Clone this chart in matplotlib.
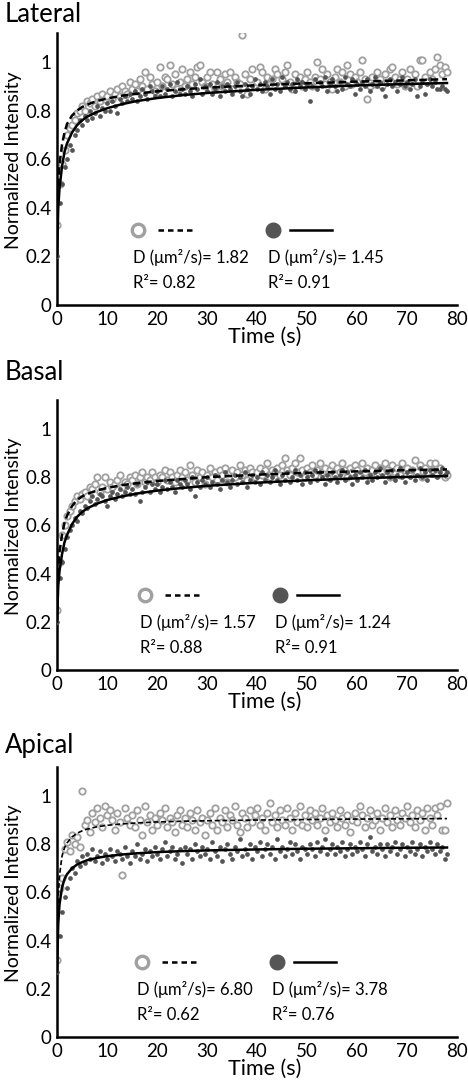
import numpy as np
import matplotlib
matplotlib.use("Agg")
import matplotlib.pyplot as plt

plt.rcParams['font.family'] = ['Lato', 'DejaVu Sans']

# sampling interval of the recordings (s)
dt = 0.5

panels = ['Lateral', 'Basal', 'Apical']

# ---- Lateral ----
lat_open = [0.33, 0.50, 0.58, 0.64, 0.70, 0.73, 0.74, 0.76, 0.79, 0.80,
            0.82, 0.80, 0.84, 0.83, 0.85, 0.82, 0.86, 0.84, 0.87, 0.85,
            0.86, 0.88, 0.85, 0.87, 0.89, 0.86, 0.90, 0.88, 0.87, 0.92,
            0.89, 0.91, 0.88, 0.93, 0.90, 0.96, 0.89, 0.94, 0.91, 0.88,
            0.92, 0.98, 0.90, 0.94, 0.93, 0.99, 0.91, 0.95, 0.89, 0.92,
            0.97, 0.90, 0.93, 0.96, 0.91, 0.94, 0.98, 0.99, 0.92, 0.90,
            0.94, 0.96, 0.91, 0.89, 0.96, 0.93, 0.90, 0.95, 0.92, 0.96,
            0.89, 0.94, 0.92, 0.91, 1.11, 0.95, 0.87, 0.93, 0.97, 0.90,
            0.92, 0.98, 0.96, 0.89, 0.94, 0.91, 0.93, 0.97, 0.95, 0.90,
            0.93, 0.96, 0.99, 0.92, 0.89, 0.95, 0.91, 0.94, 0.90, 0.93,
            0.96, 0.92, 0.90, 0.94, 1.00, 0.93, 0.97, 0.91, 0.95, 0.92,
            0.89, 0.94, 0.97, 0.92, 0.96, 0.90, 0.99, 0.95, 0.91, 0.94,
            0.92, 0.96, 1.01, 0.93, 0.85, 0.90, 0.94, 0.91, 0.96, 0.93,
            0.90, 0.95, 0.92, 0.97, 0.98, 0.94, 0.91, 0.93, 0.96, 0.90,
            0.93, 0.97, 0.92, 0.95, 0.90, 1.01, 1.01, 0.94, 0.92, 0.96,
            0.93, 0.97, 1.02, 0.99, 0.95, 0.98, 0.96]
lat_fill = [0.20, 0.42, 0.50, 0.57, 0.60, 0.66, 0.64, 0.70, 0.72, 0.76,
            0.74, 0.78, 0.76, 0.80, 0.77, 0.79, 0.82, 0.78, 0.81, 0.80,
            0.83, 0.80, 0.84, 0.82, 0.79, 0.85, 0.83, 0.86, 0.84, 0.87,
            0.85, 0.88, 0.84, 0.86, 0.89, 0.87, 0.85, 0.90, 0.88, 0.86,
            0.88, 0.86, 0.90, 0.87, 0.89, 0.91, 0.86, 0.88, 0.92, 0.87,
            0.89, 0.87, 0.90, 0.88, 0.86, 0.91, 0.89, 0.93, 0.87, 0.90,
            0.88, 0.91, 0.87, 0.89, 0.92, 0.86, 0.90, 0.88, 0.91, 0.89,
            0.87, 0.90, 0.92, 0.88, 0.86, 0.91, 0.89, 0.87, 0.90, 0.93,
            0.89, 0.91, 0.88, 0.92, 0.90, 0.87, 0.93, 0.89, 0.91, 0.88,
            0.94, 0.90, 0.92, 0.89, 0.91, 0.88, 0.93, 0.90, 0.92, 0.89,
            0.91, 0.84, 0.90, 0.93, 0.89, 0.92, 0.90, 0.94, 0.88, 0.91,
            0.93, 0.90, 0.88, 0.92, 0.89, 0.94, 0.91, 0.90, 0.93, 0.87,
            0.91, 0.89, 0.92, 0.90, 0.93, 0.88, 0.91, 0.94, 0.90, 0.92,
            0.89, 0.86, 0.91, 0.93, 0.90, 0.92, 0.88, 0.91, 0.94, 0.90,
            0.92, 0.89, 0.91, 0.93, 0.86, 0.90, 0.92, 0.87, 0.91, 0.93,
            0.90, 0.92, 0.89, 0.89, 0.90, 0.89, 0.88]

# ---- Basal ----
bas_open = [0.25, 0.45, 0.56, 0.60, 0.64, 0.66, 0.68, 0.70, 0.72, 0.71,
            0.73, 0.74, 0.72, 0.76, 0.75, 0.77, 0.80, 0.74, 0.76, 0.80,
            0.75, 0.78, 0.76, 0.77, 0.79, 0.81, 0.76, 0.78, 0.77, 0.80,
            0.79, 0.81, 0.77, 0.80, 0.82, 0.78, 0.80, 0.79, 0.82, 0.80,
            0.78, 0.81, 0.80, 0.83, 0.79, 0.82, 0.80, 0.78, 0.81, 0.83,
            0.80, 0.82, 0.79, 0.85, 0.81, 0.78, 0.83, 0.80, 0.82, 0.77,
            0.81, 0.84, 0.80, 0.82, 0.79, 0.83, 0.81, 0.84, 0.78, 0.82,
            0.83, 0.80, 0.82, 0.85, 0.81, 0.83, 0.79, 0.84, 0.82, 0.80,
            0.82, 0.84, 0.81, 0.83, 0.86, 0.80, 0.83, 0.82, 0.84, 0.81,
            0.85, 0.88, 0.83, 0.81, 0.84, 0.86, 0.82, 0.88, 0.83, 0.80,
            0.84, 0.82, 0.85, 0.81, 0.83, 0.86, 0.82, 0.84, 0.80, 0.83,
            0.85, 0.81, 0.84, 0.82, 0.86, 0.83, 0.80, 0.84, 0.82, 0.85,
            0.83, 0.81, 0.86, 0.82, 0.84, 0.80, 0.83, 0.85, 0.81, 0.84,
            0.82, 0.86, 0.83, 0.80, 0.85, 0.82, 0.84, 0.81, 0.86, 0.83,
            0.84, 0.81, 0.83, 0.87, 0.82, 0.85, 0.80, 0.84, 0.82, 0.86,
            0.83, 0.86, 0.81, 0.84, 0.82, 0.80, 0.81]
bas_fill = [0.20, 0.38, 0.45, 0.50, 0.55, 0.58, 0.60, 0.63, 0.62, 0.66,
            0.65, 0.68, 0.67, 0.70, 0.72, 0.69, 0.71, 0.73, 0.72, 0.70,
            0.68, 0.72, 0.74, 0.71, 0.73, 0.75, 0.72, 0.74, 0.76, 0.73,
            0.75, 0.73, 0.77, 0.70, 0.74, 0.76, 0.78, 0.74, 0.77, 0.75,
            0.77, 0.74, 0.76, 0.79, 0.75, 0.78, 0.76, 0.74, 0.79, 0.77,
            0.76, 0.79, 0.77, 0.75, 0.80, 0.72, 0.78, 0.76, 0.79, 0.77,
            0.80, 0.76, 0.78, 0.81, 0.77, 0.75, 0.79, 0.82, 0.78, 0.76,
            0.79, 0.81, 0.77, 0.80, 0.78, 0.82, 0.76, 0.79, 0.81, 0.78,
            0.80, 0.77, 0.82, 0.79, 0.81, 0.78, 0.80, 0.83, 0.79, 0.77,
            0.81, 0.79, 0.82, 0.78, 0.80, 0.83, 0.79, 0.81, 0.77, 0.82,
            0.80, 0.78, 0.81, 0.83, 0.79, 0.82, 0.80, 0.77, 0.81, 0.79,
            0.82, 0.80, 0.78, 0.81, 0.83, 0.79, 0.82, 0.80, 0.77, 0.81,
            0.79, 0.82, 0.80, 0.83, 0.78, 0.81, 0.79, 0.82, 0.80, 0.84,
            0.81, 0.78, 0.82, 0.80, 0.83, 0.79, 0.81, 0.84, 0.80, 0.78,
            0.82, 0.80, 0.83, 0.79, 0.81, 0.84, 0.80, 0.82, 0.79, 0.83,
            0.81, 0.83, 0.80, 0.82, 0.84, 0.81, 0.82]

# ---- Apical ----
api_open = [0.32, 0.62, 0.66, 0.78, 0.81, 0.77, 0.84, 0.80, 0.83, 0.79,
            1.02, 0.88, 0.90, 0.85, 0.93, 0.89, 0.95, 0.91, 0.87, 0.96,
            0.92, 0.94, 0.90, 0.86, 0.93, 0.89, 0.67, 0.95, 0.91, 0.88,
            0.92, 0.87, 0.94, 0.90, 0.84, 0.96, 0.89, 0.92, 0.86, 0.91,
            0.88, 0.93, 0.90, 0.95, 0.87, 0.91, 0.89, 0.85, 0.92, 0.94,
            0.88, 0.91, 0.87, 0.93, 0.90, 0.86, 0.94, 0.89, 0.91, 0.84,
            0.90, 0.93, 0.88, 0.95, 0.86, 0.91, 0.89, 0.94, 0.87, 0.92,
            0.90, 0.96, 0.88, 0.85, 0.93, 0.91, 0.87, 0.94, 0.89, 0.92,
            0.95, 0.88, 0.91, 0.86, 0.93, 0.97, 0.89, 0.92, 0.87, 0.94,
            0.90, 0.88, 0.95, 0.91, 0.86, 0.93, 0.89, 0.96, 0.88, 0.92,
            0.87, 0.94, 0.90, 0.93, 0.88, 0.91, 0.95, 0.86, 0.92, 0.89,
            0.93, 0.90, 0.87, 0.94, 0.91, 0.88, 0.92, 0.85, 0.90, 0.93,
            0.89, 0.96, 0.92, 0.87, 0.91, 0.94, 0.88, 0.90, 0.93, 0.86,
            0.91, 0.95, 0.89, 0.92, 0.87, 0.94, 0.90, 0.88, 0.93, 0.91,
            0.96, 0.89, 0.92, 0.87, 0.94, 0.90, 0.93, 0.86, 0.95, 0.91,
            0.88, 0.95, 0.92, 0.96, 0.86, 0.86, 0.97]
api_fill = [0.27, 0.42, 0.52, 0.58, 0.62, 0.66, 0.70, 0.68, 0.73, 0.71,
            0.75, 0.72, 0.76, 0.74, 0.78, 0.73, 0.75, 0.77, 0.72, 0.76,
            0.74, 0.78, 0.75, 0.73, 0.77, 0.76, 0.74, 0.79, 0.75, 0.72,
            0.77, 0.75, 0.80, 0.74, 0.76, 0.78, 0.73, 0.77, 0.75, 0.79,
            0.76, 0.74, 0.78, 0.81, 0.75, 0.77, 0.79, 0.74, 0.76, 0.78,
            0.72, 0.79, 0.76, 0.78, 0.74, 0.80, 0.77, 0.75, 0.79, 0.76,
            0.78, 0.74, 0.81, 0.77, 0.75, 0.79, 0.73, 0.78, 0.80, 0.76,
            0.74, 0.79, 0.77, 0.82, 0.75, 0.78, 0.76, 0.80, 0.74, 0.79,
            0.77, 0.81, 0.75, 0.78, 0.80, 0.76, 0.79, 0.74, 0.82, 0.77,
            0.79, 0.75, 0.78, 0.81, 0.76, 0.80, 0.77, 0.74, 0.79, 0.78,
            0.76, 0.80, 0.78, 0.75, 0.81, 0.77, 0.79, 0.82, 0.76, 0.78,
            0.80, 0.76, 0.79, 0.77, 0.81, 0.75, 0.78, 0.80, 0.76, 0.79,
            0.77, 0.81, 0.78, 0.75, 0.80, 0.83, 0.77, 0.79, 0.76, 0.80,
            0.78, 0.75, 0.80, 0.77, 0.79, 0.81, 0.76, 0.78, 0.80, 0.75,
            0.79, 0.77, 0.81, 0.76, 0.78, 0.80, 0.75, 0.79, 0.77, 0.81,
            0.78, 0.76, 0.80, 0.77, 0.79, 0.74, 0.76]

fit_t = [0, 0.25, 0.5, 1, 1.5, 2, 3, 4, 5, 6, 8, 10, 13, 16, 20, 25, 30, 40, 50, 60, 70, 78]
lat_fit_open = [0.30, 0.50, 0.58, 0.66, 0.71, 0.745, 0.78, 0.80, 0.815, 0.825, 0.84, 0.85,
                0.862, 0.87, 0.88, 0.888, 0.895, 0.905, 0.913, 0.92, 0.925, 0.93]
lat_fit_fill = [0.20, 0.40, 0.48, 0.57, 0.63, 0.665, 0.71, 0.74, 0.76, 0.775, 0.795, 0.81,
                0.827, 0.84, 0.852, 0.864, 0.873, 0.886, 0.896, 0.904, 0.91, 0.914]
bas_fit_open = [0.25, 0.42, 0.49, 0.56, 0.61, 0.64, 0.68, 0.705, 0.72, 0.73, 0.745, 0.755,
                0.767, 0.775, 0.784, 0.792, 0.80, 0.81, 0.818, 0.824, 0.829, 0.832]
bas_fit_fill = [0.20, 0.35, 0.41, 0.48, 0.53, 0.56, 0.605, 0.635, 0.655, 0.67, 0.69, 0.705,
                0.72, 0.732, 0.744, 0.755, 0.764, 0.777, 0.787, 0.795, 0.801, 0.805]
api_fit_open = [0.30, 0.58, 0.67, 0.75, 0.785, 0.805, 0.83, 0.845, 0.855, 0.862, 0.872, 0.878,
                0.884, 0.888, 0.892, 0.895, 0.897, 0.90, 0.902, 0.904, 0.905, 0.906]
api_fit_fill = [0.27, 0.47, 0.55, 0.62, 0.655, 0.675, 0.70, 0.715, 0.725, 0.733, 0.743, 0.75,
                0.757, 0.762, 0.767, 0.771, 0.774, 0.778, 0.781, 0.783, 0.785, 0.786]

D_open = ['1.82', '1.57', '6.80']
D_fill = ['1.45', '1.24', '3.78']
R2_open = ['0.82', '0.88', '0.62']
R2_fill = ['0.91', '0.91', '0.76']

data_open = [lat_open, bas_open, api_open]
data_fill = [lat_fill, bas_fill, api_fill]
fits_open = [lat_fit_open, bas_fit_open, api_fit_open]
fits_fill = [lat_fit_fill, bas_fit_fill, api_fit_fill]

light = '#a0a0a0'
dark = '#555555'

W, H = 468, 1082
fig = plt.figure(figsize=(W / 100, H / 100), dpi=100)

# axes boxes in pixels: (top, bottom) of the plotting area
boxes = [(33, 305), (400, 670), (767, 1037)]
title_y = [15, 373, 745]
leg_dx = [0.0, 0.018, 0.01]

for i, name in enumerate(panels):
    top, bot = boxes[i]
    ax = fig.add_axes([57 / W, 1 - bot / H, 400 / W, (bot - top) / H])

    yo = np.array(data_open[i])
    yf = np.array(data_fill[i])
    ax.plot(np.arange(len(yo)) * dt, yo, 'o', ms=4.6, mfc='white', mec=light, mew=1.3, zorder=2)
    ax.plot(np.arange(len(yf)) * dt, yf, 'o', ms=3.4, mfc=dark, mec=dark, mew=0, zorder=3)
    lw_dash = 1.8 if i < 2 else 1.2
    ax.plot(fit_t, fits_open[i], '--', color='black', lw=lw_dash, dashes=(3, 1.6), zorder=4)
    ax.plot(fit_t, fits_fill[i], '-', color='black', lw=1.8, zorder=4)

    ax.set_xlim(0, 80)
    ax.set_ylim(0, 1.12)
    ax.set_xticks(range(0, 81, 10))
    ax.set_yticks([0, 0.2, 0.4, 0.6, 0.8, 1.0])
    ax.set_yticklabels(['0', '0.2', '0.4', '0.6', '0.8', '1'])
    ax.tick_params(length=0, labelsize=13.5, pad=4)
    for s in ['top', 'right']:
        ax.spines[s].set_visible(False)
    for s in ['left', 'bottom']:
        ax.spines[s].set_linewidth(1.8)
    ax.set_ylabel('Normalized Intensity', fontsize=14)
    ax.yaxis.set_label_coords(-0.0875, 0.533)
    ax.set_xlabel('Time (s)', fontsize=15.5)
    ax.xaxis.set_label_coords(0.52, -0.082)

    # key and fit results
    dx = leg_dx[i]
    tr = ax.transAxes
    ax.plot([0.2025 + dx], [0.276], 'o', ms=9, mfc='white', mec=light, mew=2.4,
            transform=tr, clip_on=False)
    ax.plot([0.2525 + dx, 0.345 + dx], [0.276, 0.276], color='black', lw=1.8,
            dashes=(2.2, 1.6), transform=tr, clip_on=False)
    ax.plot([0.54 + dx], [0.276], 'o', ms=10.5, mfc=dark, mec=dark, transform=tr, clip_on=False)
    ax.plot([0.5825 + dx, 0.6875 + dx], [0.276, 0.276], color='black', lw=1.8,
            transform=tr, clip_on=False)
    ax.text(0.19 + dx, 0.176, 'D (\u03bcm\u00b2/s)= ' + D_open[i], transform=tr,
            fontsize=12, va='center', ha='left')
    ax.text(0.19 + dx, 0.081, 'R\u00b2= ' + R2_open[i], transform=tr,
            fontsize=12, va='center', ha='left')
    ax.text(0.5275 + dx, 0.176, 'D (\u03bcm\u00b2/s)= ' + D_fill[i], transform=tr,
            fontsize=12, va='center', ha='left')
    ax.text(0.5275 + dx, 0.081, 'R\u00b2= ' + R2_fill[i], transform=tr,
            fontsize=12, va='center', ha='left')

    fig.text(5 / W, 1 - title_y[i] / H, name, fontsize=18.5, va='center', ha='left')

fig.savefig('out.png', dpi=100)
